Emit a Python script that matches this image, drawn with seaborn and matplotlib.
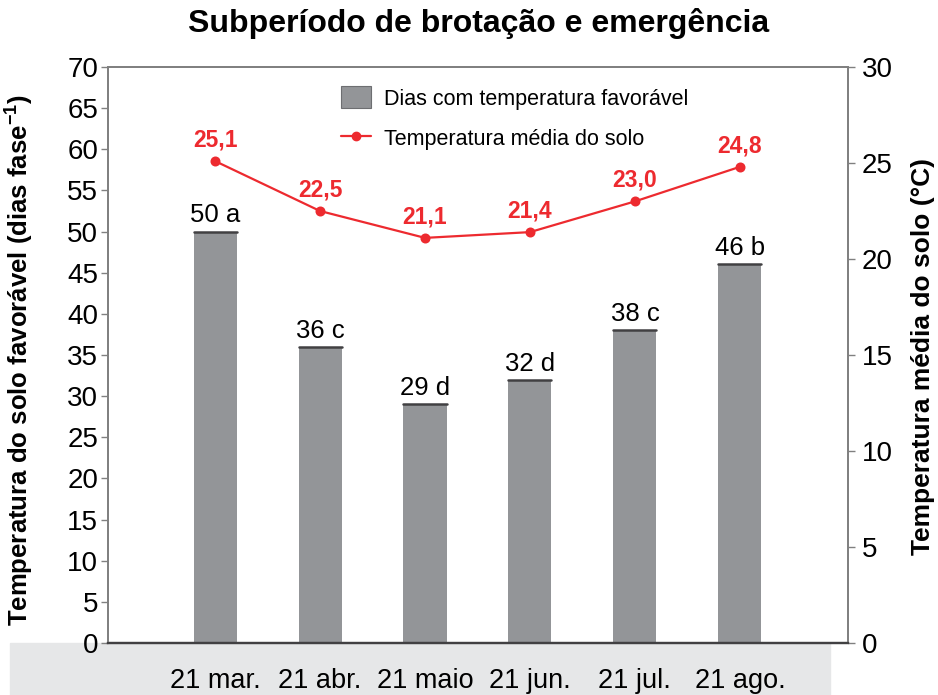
import numpy as np
import pandas as pd
import seaborn as sns
import matplotlib
matplotlib.use("Agg")
import matplotlib.pyplot as plt
from matplotlib.patches import Rectangle, Patch
from matplotlib.lines import Line2D

# data
datas = ["21 mar.", "21 abr.", "21 maio", "21 jun.", "21 jul.", "21 ago."]
dias = [50, 36, 29, 32, 38, 46]
letras = ["a", "c", "d", "d", "c", "b"]
temp_solo = [25.1, 22.5, 21.1, 21.4, 23.0, 24.8]

cinza = "#939598"
vermelho = "#ed2a2f"

sns.set_style("white")
plt.rcParams["font.family"] = ["Liberation Sans", "DejaVu Sans"]
for k in ("text.color", "axes.labelcolor", "xtick.labelcolor", "ytick.labelcolor"):
    plt.rcParams[k] = "black"

df = pd.DataFrame({"data": datas, "dias": dias, "temp": temp_solo})

fig = plt.figure(figsize=(9.38, 6.95), dpi=100)
# gray band behind the x labels
fig.patches.append(Rectangle((10 / 938, 0), 820 / 938, 52 / 695,
                             transform=fig.transFigure, color="#e6e7e8", zorder=0))
ax = fig.add_axes([108 / 938, 52 / 695, 740 / 938, 576 / 695])
ax.set_zorder(2)

sns.barplot(data=df, x="data", y="dias", color=cinza, width=0.41, ax=ax,
            saturation=1, edgecolor="none")
# dark line on the top of each bar
for i, d in enumerate(dias):
    ax.plot([i - 0.205, i + 0.205], [d, d], color="#414042", lw=1.8, zorder=4)
    ax.text(i, d + 0.5, f"{d} {letras[i]}", ha="center", va="bottom",
            fontsize=18.5, color="black")

ax.set_ylim(0, 70)
ax.set_yticks(np.arange(0, 71, 5))
ax.set_xlim(-1.02, 6.03)
ax.set_xlabel("")
ax.set_ylabel("Temperatura do solo favorável (dias fase$^{\\mathregular{-1}}$)",
              fontsize=18.5, fontweight="bold")
ax.yaxis.set_label_coords(-0.099, 0.491)
ax.tick_params(axis="x", length=0, pad=18, labelsize=19.5)
ax.tick_params(axis="y", length=5, width=1, color="#808080", pad=2,
               labelsize=20, direction="out", left=True)

ax2 = ax.twinx()
sns.pointplot(data=df, x="data", y="temp", color=vermelho, ax=ax2,
              markers="o", markersize=6, linewidth=1.6)
for i, t in enumerate(temp_solo):
    ax2.text(i, t + 0.5, f"{t:.1f}".replace(".", ","), ha="center", va="bottom",
             fontsize=16.5, fontweight="bold", color=vermelho)
ax2.set_ylim(0, 30)
ax2.set_yticks(np.arange(0, 31, 5))
ax2.set_xlim(-1.02, 6.03)
ax2.set_ylabel("Temperatura média do solo (°C)", fontsize=19,
               fontweight="bold", rotation=90)
ax2.yaxis.set_label_coords(1.085, 0.497)
ax2.tick_params(axis="y", length=5, width=1, color="#808080", pad=5,
                labelsize=20, direction="out", right=True)

for a in (ax, ax2):
    for s in ("top", "left", "right"):
        a.spines[s].set_color("#808080")
        a.spines[s].set_linewidth(1.3)
    a.spines["bottom"].set_color("#414042")
    a.spines["bottom"].set_linewidth(1.6)

handles = [Patch(facecolor=cinza, edgecolor="#6d6e71", linewidth=0.8),
           Line2D([0], [0], color=vermelho, lw=1.6, marker="o", markersize=6)]
ax2.legend(handles, ["Dias com temperatura favorável", "Temperatura média do solo"],
           loc="upper center", bbox_to_anchor=(0.55, 1.0), frameon=False,
           fontsize=15.5, handlelength=1.4, handleheight=1.2, labelspacing=0.8,
           handletextpad=0.6)

fig.text(0.51, 0.966, "Subperíodo de brotação e emergência", ha="center",
         va="center", fontsize=23, fontweight="bold")

fig.savefig("out.png", dpi=100)
